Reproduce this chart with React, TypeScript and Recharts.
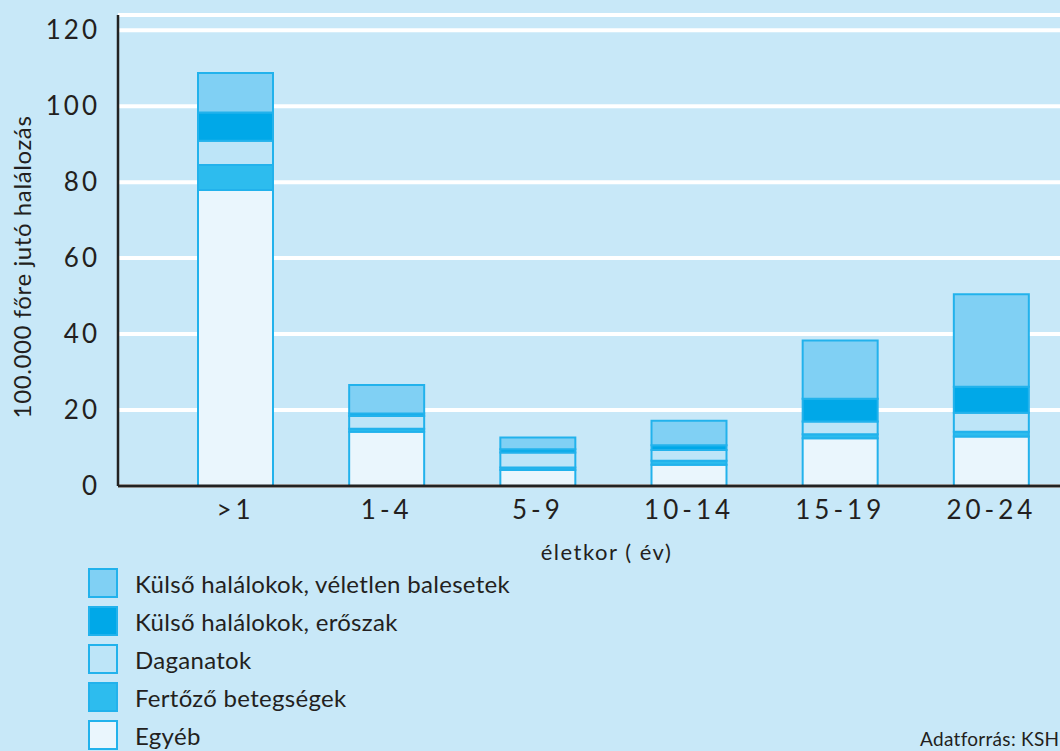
import { BarChart, Bar, XAxis, YAxis, CartesianGrid, Legend } from "recharts"

const ageGroups = [">1", "1-4", "5-9", "10-14", "15-19", "20-24"]
const egyeb = [77.9, 14.3, 4.2, 5.6, 12.6, 13.0]
const fertozo = [6.6, 0.8, 0.7, 1.05, 1.05, 1.3]
const daganatok = [6.4, 3.3, 3.9, 2.8, 3.3, 5.0]
const eroszak = [7.4, 0.7, 0.9, 1.3, 6.05, 6.8]
const baleset = [10.4, 7.5, 3.1, 6.4, 15.3, 24.4]
const yTicks = [0, 20, 40, 60, 80, 100, 120]

const series = [
  { key: "egyeb", name: "Egyéb", color: "#eaf6fd" },
  { key: "fertozo", name: "Fertőző betegségek", color: "#2dbcee" },
  { key: "daganatok", name: "Daganatok", color: "#bde5f8" },
  { key: "eroszak", name: "Külső halálokok, erőszak", color: "#00a8e8" },
  { key: "baleset", name: "Külső halálokok, véletlen balesetek", color: "#80d0f4" },
]

const data = ageGroups.map((age, i) => ({
  age,
  egyeb: egyeb[i],
  fertozo: fertozo[i],
  daganatok: daganatok[i],
  eroszak: eroszak[i],
  baleset: baleset[i],
}))

const textColor = "#231f20"
const font = "Lato, 'Open Sans', sans-serif"
const edge = "#22b2ec"

function YLabel() {
  return (
    <text
      x={31}
      y={267}
      transform="rotate(-90 31 267)"
      textAnchor="middle"
      fill={textColor}
      fontSize={24}
      letterSpacing={0.6}
      fontFamily={font}
    >
      100.000 főre jutó halálozás
    </text>
  )
}

function LegendBox() {
  const items = [...series].reverse()
  return (
    <div style={{ fontFamily: font, color: textColor }}>
      {items.map((s) => (
        <div key={s.key} style={{ display: "flex", alignItems: "center", height: 38 }}>
          <div
            style={{
              width: 26,
              height: 26,
              background: s.color,
              border: `2px solid ${edge}`,
              marginRight: 17,
            }}
          />
          <span style={{ fontSize: 24, letterSpacing: 0.3 }}>{s.name}</span>
        </div>
      ))}
    </div>
  )
}

export default function App() {
  return (
    <div
      style={{
        position: "absolute",
        left: 0,
        top: 0,
        width: 1060,
        height: 751,
        overflow: "hidden",
        background: "#c8e8f8",
      }}
    >
      <BarChart
        width={1075}
        height={751}
        data={data}
        barSize={75}
        margin={{ top: 15, right: 8, left: 0, bottom: 185 }}
      >
        <CartesianGrid vertical={false} stroke="#ffffff" strokeWidth={4} />
        <XAxis
          dataKey="age"
          height={80}
          padding={{ left: 42, right: 0 }}
          tickLine={false}
          tickSize={0}
          tickMargin={15}
          axisLine={{ stroke: "#222", strokeWidth: 3 }}
          tick={{ fill: textColor, fontSize: 26, fontFamily: font, letterSpacing: 4 }}
          label={{
            value: "életkor ( év)",
            position: "insideBottom",
            offset: 6,
            dx: 14,
            fill: textColor,
            fontSize: 22,
            letterSpacing: 1.5,
            fontFamily: font,
          }}
        />
        <YAxis
          width={118}
          domain={[0, 124]}
          ticks={yTicks}
          interval={0}
          tickLine={false}
          tickSize={0}
          tickMargin={18}
          axisLine={{ stroke: "#222", strokeWidth: 2.5 }}
          tick={{ fill: textColor, fontSize: 26, fontFamily: font, letterSpacing: 3 }}
          label={<YLabel />}
        />
        <Legend
          layout="vertical"
          align="center"
          verticalAlign="middle"
          wrapperStyle={{ left: 88, top: 564, width: 560 }}
          content={() => <LegendBox />}
        />
        {series.map((s) => (
          <Bar
            key={s.key}
            dataKey={s.key}
            name={s.name}
            stackId="a"
            fill={s.color}
            stroke={edge}
            strokeWidth={2}
            isAnimationActive={false}
          />
        ))}
      </BarChart>
      <div
        style={{
          position: "absolute",
          left: 920,
          top: 727,
          fontFamily: font,
          fontSize: 19,
          letterSpacing: 0.3,
          color: textColor,
          whiteSpace: "nowrap",
        }}
      >
        Adatforrás: KSH
      </div>
    </div>
  )
}
